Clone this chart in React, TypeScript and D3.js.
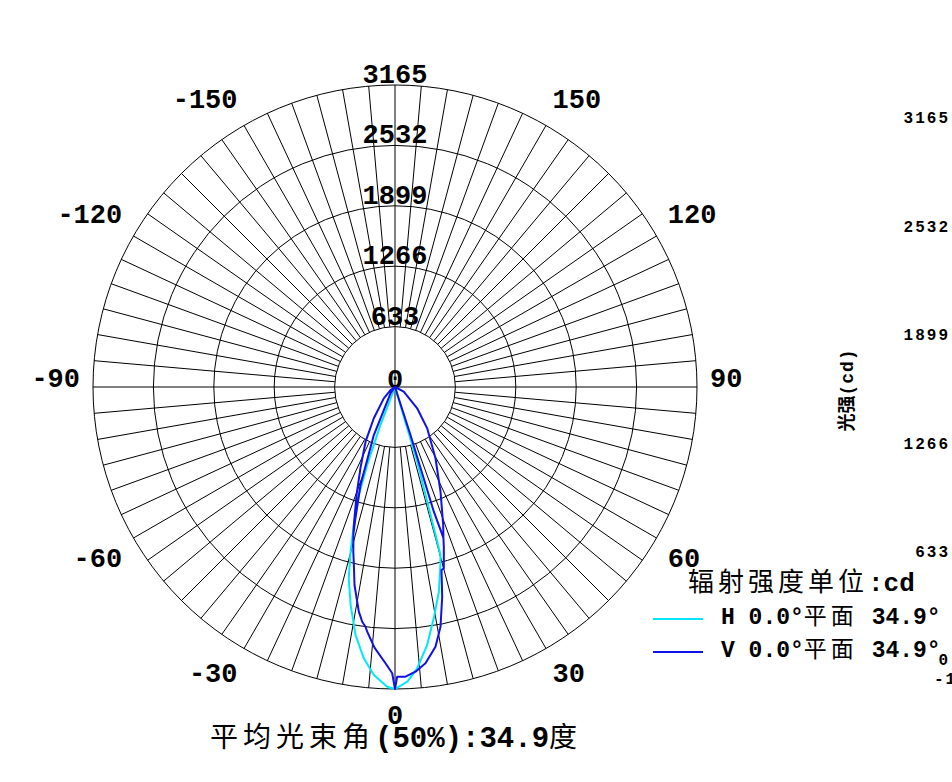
import * as d3 from "d3";

// polar grid ticks (cd) and angle labels (deg, 0 = down, + = right)
const cdTicks = [633, 1266, 1899, 2532, 3165];
const angleTicks = [0, 30, 60, 90, 120, 150, -150, -120, -90, -60, -30];
const axisTicks = [3165, 2532, 1899, 1266, 633, 0];

// H 0.0° plane (cyan), points in drawing order
const hAngles = [-24, -21, -19.6, -18.5, -16.6, -15.1, -13.6, -11.5, -9.05, -6.56, -4.2, -1.5, 0, 2.4, 4.5, 7.1, 9.5, 12.1, 14.3, 15.15, 15.4, 16.6, 17];
const hValues = [0, 430, 868, 1194, 1509, 1788, 2063, 2332, 2632, 2862, 3027, 3142, 3165, 3091, 2958, 2725, 2458, 2194, 1925, 1824, 1535, 800, 0];

// V 0.0° plane (blue), points in drawing order
const vAngles = [-15.8, -16.8, -19.4, -23.8, -35.5, -90, -56, -44.7, -34.1, -28.3, -23.1, -19.6, -16.6, -15.8, -14.2, -13.15, -11.56, -9.15, -8.54, -7.96, -7.02, -6.48, -4.5, -1.97, -0.56, 0, 0.43, 2.08, 4.12, 6.3, 8.86, 10.75, 12.68, 14.26, 15.07, 17, 17.8, 19.25, 23.5, 29.6, 37.9, 46.2, 61.9, 90, 17.9, 17.3, 17.8];
const vValues = [1600, 1434, 1089, 550, 81, 0, 57, 167, 396, 651, 922, 1202, 1509, 1600, 1781, 1897, 2118, 2385, 2434, 2484, 2531, 2581, 2740, 2897, 3000, 3165, 3036, 3038, 2991, 2913, 2754, 2557, 2253, 1979, 1968, 1750, 1660, 1532, 1196, 859, 549, 322, 104, 0, 528, 1369, 1660];

const CYAN = "#00e8f8";
const BLUE = "#1010e8";
const MONO = "'Liberation Mono', 'DejaVu Sans Mono', monospace";
const CJK = "'Noto Sans CJK SC', sans-serif";

export default function App ()
{
    const W = 952, H = 782;
    const cx = 395, cy = 387, R = 302;
    const r = d3.scaleLinear().domain( [ 0, 3165 ] ).range( [ 0, R ] );
    const rad = ( a: number ) => a * Math.PI / 180;
    const pt = ( a: number, rr: number ) => [ cx + rr * Math.sin( rad( a ) ), cy + rr * Math.cos( rad( a ) ) ];

    const line = d3.lineRadial<{ a: number; v: number }>()
        .angle( ( d ) => Math.PI - rad( d.a ) )
        .radius( ( d ) => r( d.v ) );

    const hPts = hAngles.map( ( a, i ) => ( { a, v: hValues[ i ] } ) );
    const vPts = vAngles.map( ( a, i ) => ( { a, v: vValues[ i ] } ) );

    const spokes = d3.range( 0, 360, 5 ).filter( ( a ) => a % 90 !== 0 );
    const fs = 27;

    const axisY = d3.scaleLinear().domain( [ 633, 3165 ] ).range( [ 557, 123 ] );

    return (
        <svg width={ W } height={ H } style={ { position: "absolute", left: 0, top: 0, background: "#fff" } }>
            {/* rings */ }
            <g fill="none" stroke="#000" strokeWidth={ 1 }>
                { cdTicks.map( ( t ) => <circle key={ t } cx={ cx } cy={ cy } r={ r( t ) } /> ) }
                { spokes.map( ( a ) =>
                {
                    const [ x1, y1 ] = pt( a, r( 633 ) );
                    const [ x2, y2 ] = pt( a, R );
                    return <line key={ a } x1={ x1 } y1={ y1 } x2={ x2 } y2={ y2 } />;
                } ) }
                <line x1={ cx - R } y1={ cy } x2={ cx + R } y2={ cy } />
                <line x1={ cx } y1={ cy - R } x2={ cx } y2={ cy + R } />
            </g>

            {/* ring labels */ }
            <g fontFamily={ MONO } fontWeight="bold" fontSize={ fs } textAnchor="middle" fill="#000">
                <text x={ cx } y={ cy + 1 }>0</text>
                { cdTicks.map( ( t ) => <text key={ t } x={ cx } y={ cy - r( t ) - 2 }>{ t }</text> ) }
            </g>

            {/* angle labels: anchored just outside the rim */ }
            <g fontFamily={ MONO } fontWeight="bold" fontSize={ fs } fill="#000">
                { angleTicks.map( ( a ) =>
                {
                    const [ x, y ] = pt( a, R + 13 );
                    const anchor = a === 0 ? "middle" : a > 0 ? "start" : "end";
                    const by = Math.abs( a ) === 90 ? y : Math.abs( a ) > 90 ? y - 6.5 : y + 22;
                    return <text key={ a } x={ x } y={ by } textAnchor={ anchor }>{ a }</text>;
                } ) }
            </g>

            {/* curves */ }
            <g fill="none" strokeLinejoin="round" transform={ `translate(${ cx },${ cy })` }>
                <path d={ line( hPts ) ?? "" } stroke={ CYAN } strokeWidth={ 2 } />
                <path d={ line( vPts ) ?? "" } stroke={ BLUE } strokeWidth={ 2 } />
            </g>

            {/* right partial axis */ }
            <g fontFamily={ MONO } fontWeight="bold" fontSize={ 16 } letterSpacing={ 2 } textAnchor="end" fill="#000">
                { axisTicks.map( ( t ) => <text key={ t } x={ 950 } y={ t === 0 ? 665 : axisY( t ) }>{ t }</text> ) }
                <text x={ 934 } y={ 684 } textAnchor="start">-180</text>
            </g>
            <text transform="translate(853,390) rotate(-90)" textAnchor="middle" fontSize={ 18 } fontWeight="bold" fill="#000">
                <tspan fontFamily={ CJK }>光强</tspan>
                <tspan fontFamily={ MONO } letterSpacing={ 1 }>(cd)</tspan>
            </text>

            {/* legend */ }
            <text x={ 688 } y={ 591 } fontSize={ 26 } fill="#000">
                <tspan fontFamily={ CJK } letterSpacing={ 4 }>辐射强度单位</tspan>
                <tspan fontFamily={ MONO } fontWeight="bold">:cd</tspan>
            </text>
            <line x1={ 653 } x2={ 703 } y1={ 619 } y2={ 619 } stroke={ CYAN } strokeWidth={ 2 } />
            <line x1={ 653 } x2={ 703 } y1={ 652 } y2={ 652 } stroke={ BLUE } strokeWidth={ 2 } />
            <text x={ 721 } y={ 624 } fontSize={ 23 } fill="#000">
                <tspan fontFamily={ MONO } fontWeight="bold">H 0.0°</tspan>
                <tspan fontFamily={ CJK } letterSpacing={ 4 }>平面</tspan>
                <tspan fontFamily={ MONO } fontWeight="bold"> 34.9°</tspan>
            </text>
            <text x={ 721 } y={ 657 } fontSize={ 23 } fill="#000">
                <tspan fontFamily={ MONO } fontWeight="bold">V 0.0°</tspan>
                <tspan fontFamily={ CJK } letterSpacing={ 4 }>平面</tspan>
                <tspan fontFamily={ MONO } fontWeight="bold"> 34.9°</tspan>
            </text>

            {/* title */ }
            <text x={ 210 } y={ 747 } fontSize={ 28 } fill="#000">
                <tspan fontFamily={ CJK } letterSpacing={ 5 }>平均光束角</tspan>
                <tspan fontFamily={ MONO } fontWeight="bold" fontSize={ 29 }>(50%):34.9</tspan>
                <tspan fontFamily={ CJK }>度</tspan>
            </text>
        </svg>
    );
}
